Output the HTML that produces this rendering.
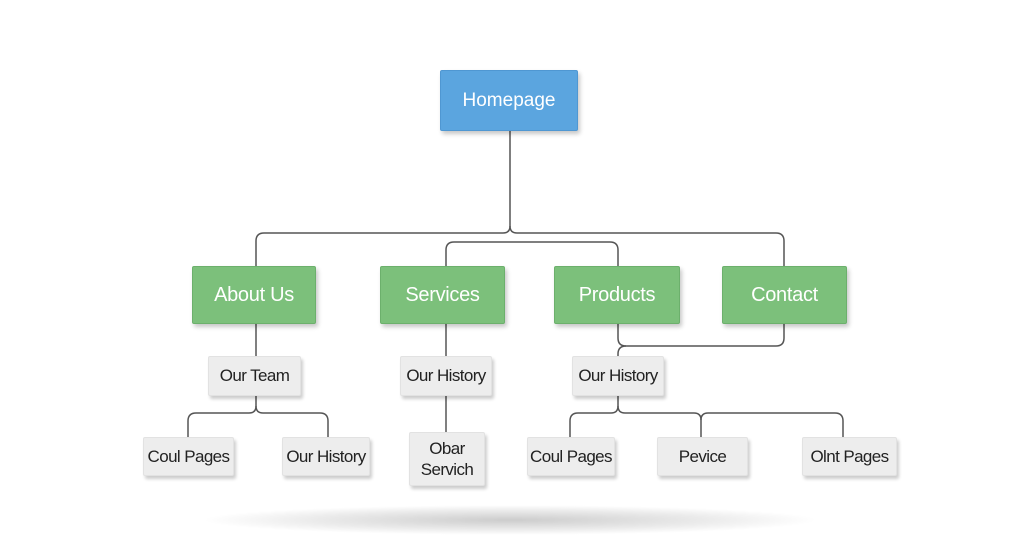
<!DOCTYPE html>
<html><head><meta charset="utf-8"><style>
html,body{margin:0;padding:0;background:#fff;}
body{width:1024px;height:559px;overflow:hidden;position:relative;font-family:"Liberation Sans",sans-serif;}
.b{position:absolute;display:flex;align-items:center;justify-content:center;text-align:center;box-sizing:border-box;border-radius:2px;}
.blue{background:#5ba5df;color:#fff;font-size:19px;border:1px solid #4f97d2;box-shadow:2px 3px 4px rgba(0,0,0,.22);}
.green{background:#7cc07b;color:#fff;font-size:20px;letter-spacing:-0.3px;border:1px solid #6cb06c;box-shadow:2px 3px 4px rgba(0,0,0,.22);}
.grey{background:#ededed;color:#222;font-size:17px;letter-spacing:-0.6px;border:1px solid #e2e2e2;box-shadow:2px 3px 3px rgba(0,0,0,.2);line-height:1.25;}
</style></head><body>
<div style="position:absolute;left:200px;top:505px;width:620px;height:30px;border-radius:50%;background:radial-gradient(ellipse at center,rgba(0,0,0,.2) 0%,rgba(0,0,0,.08) 45%,rgba(0,0,0,0) 70%);"></div>
<svg width="1024" height="559" style="position:absolute;left:0;top:0" fill="none" stroke="#555" stroke-width="1.5">
<path d="M510 130 V226 Q510 233 503 233 H264 Q256 233 256 241 V266"/>
<path d="M510 226 Q510 233 517 233 H776 Q784 233 784 241 V266"/>
<path d="M446 266 V250 Q446 242 454 242 H610 Q618 242 618 250 V266"/>
<path d="M256 324 V356"/>
<path d="M256 396 V406 Q256 413 249 413 H196 Q188 413 188 421 V437"/>
<path d="M256 406 Q256 413 263 413 H320 Q328 413 328 421 V437"/>
<path d="M446 324 V356"/>
<path d="M446 396 V432"/>
<path d="M618 324 V338 Q618 346 626 346 H776 Q784 346 784 338 V324"/>
<path d="M626 346 Q618 346 618 354 V356"/>
<path d="M618 396 V406 Q618 413 611 413 H578 Q570 413 570 421 V437"/>
<path d="M618 406 Q618 413 625 413 H694 Q701 413 701 420 V437"/>
<path d="M701 420 Q701 413 708 413 H835 Q843 413 843 421 V437"/>
</svg>
<div class="b blue" style="left:440px;top:70px;width:138px;height:61px;">Homepage</div>
<div class="b green" style="left:192px;top:266px;width:124px;height:58px;">About Us</div>
<div class="b green" style="left:380px;top:266px;width:125px;height:58px;">Services</div>
<div class="b green" style="left:554px;top:266px;width:126px;height:58px;">Products</div>
<div class="b green" style="left:722px;top:266px;width:125px;height:58px;">Contact</div>
<div class="b grey" style="left:208px;top:356px;width:93px;height:40px;">Our Team</div>
<div class="b grey" style="left:400px;top:356px;width:92px;height:40px;">Our History</div>
<div class="b grey" style="left:572px;top:356px;width:92px;height:40px;">Our History</div>
<div class="b grey" style="left:143px;top:437px;width:91px;height:39px;">Coul Pages</div>
<div class="b grey" style="left:282px;top:437px;width:88px;height:39px;">Our History</div>
<div class="b grey" style="left:409px;top:432px;width:76px;height:54px;">Obar<br>Servich</div>
<div class="b grey" style="left:527px;top:437px;width:88px;height:39px;">Coul Pages</div>
<div class="b grey" style="left:657px;top:437px;width:91px;height:39px;">Pevice</div>
<div class="b grey" style="left:802px;top:437px;width:95px;height:39px;">Olnt Pages</div>
</body></html>
